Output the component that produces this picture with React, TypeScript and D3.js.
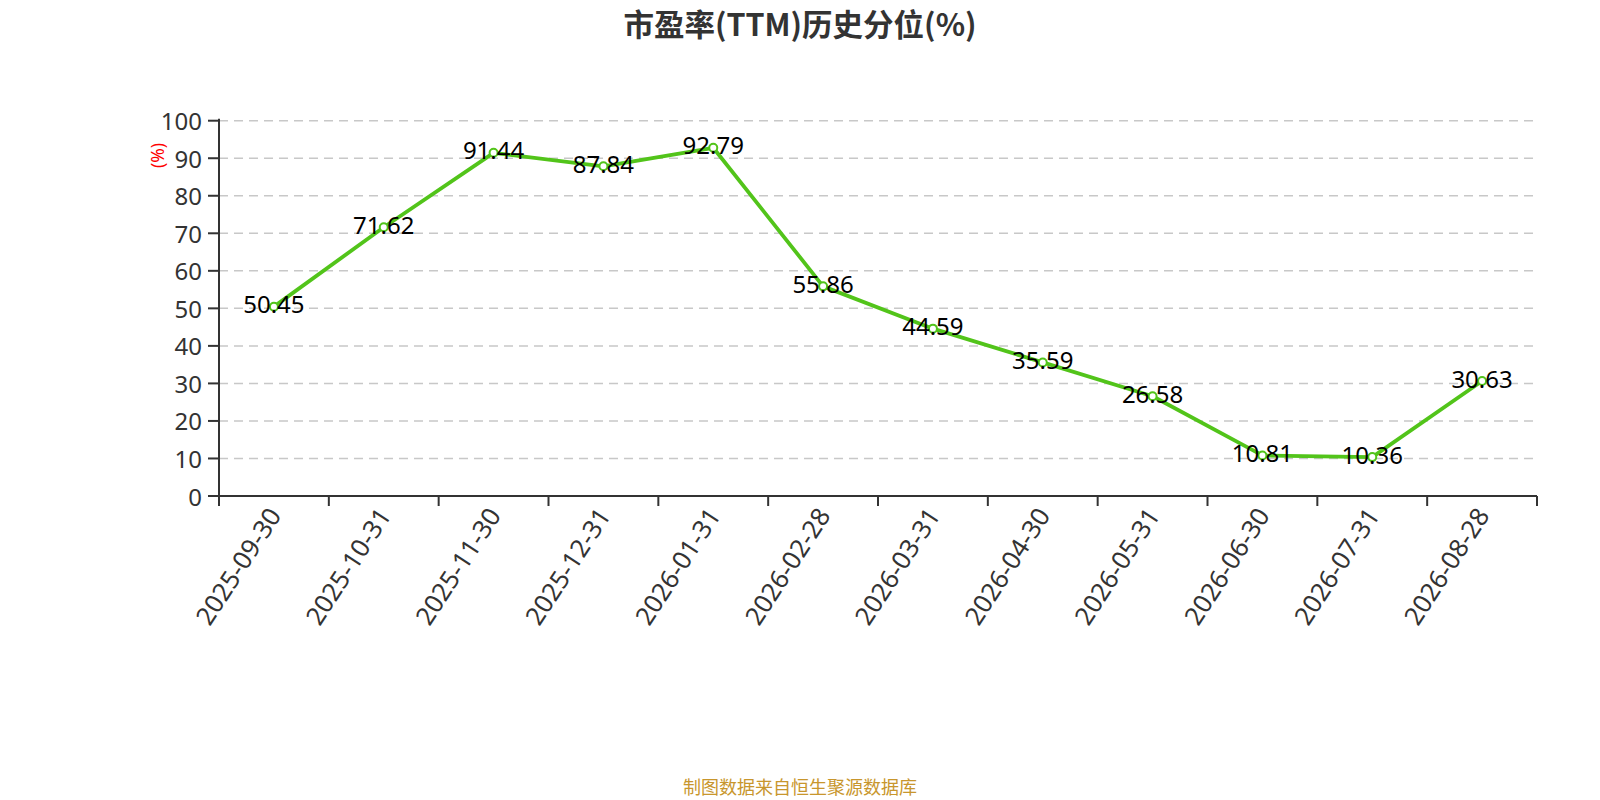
import React from 'react';
import * as d3 from 'd3';

const categories = [
  '2025-09-30', '2025-10-31', '2025-11-30', '2025-12-31', '2026-01-31', '2026-02-28',
  '2026-03-31', '2026-04-30', '2026-05-31', '2026-06-30', '2026-07-31', '2026-08-28',
];
const values = [50.45, 71.62, 91.44, 87.84, 92.79, 55.86, 44.59, 35.59, 26.58, 10.81, 10.36, 30.63];
const yTicks = [0, 10, 20, 30, 40, 50, 60, 70, 80, 90, 100];

const W = 1600;
const H = 800;
const left = 219;
const right = 1537;
const top = 120.7;
const bottom = 496;
const green = '#52c41a';
const font = '"Noto Sans", "Noto Sans CJK SC", sans-serif';

export default function App() {
  const x = d3.scaleBand<string>().domain(categories).range([left, right]).paddingInner(0).paddingOuter(0);
  const y = d3.scaleLinear().domain([0, 100]).range([bottom, top]);
  const cx = (c: string) => (x(c) ?? 0) + x.bandwidth() / 2;
  const line = d3
    .line<number>()
    .x((_, i) => cx(categories[i]))
    .y((d) => y(d));
  const xTickPos = categories.map((c) => x(c) ?? 0).concat([right]);

  return (
    <svg
      width={W}
      height={H}
      style={{ position: 'absolute', left: 0, top: 0, background: '#fff' }}
      fontFamily={font}
    >
      <text
        x={800}
        y={23}
        textAnchor="middle"
        dominantBaseline="central"
        fontSize={30.5}
        fontWeight="bold"
        fill="#333"
        fontFamily='"Noto Sans CJK SC", sans-serif'
      >
        市盈率(TTM)历史分位(%)
      </text>

      {yTicks.map((t) => (
        <g key={t}>
          {t > 0 && (
            <line
              x1={left}
              x2={right}
              y1={y(t)}
              y2={y(t)}
              stroke="#c8c8c8"
              strokeWidth={1.5}
              strokeDasharray="9,6"
            />
          )}
          <line x1={left - 11} x2={left} y1={y(t)} y2={y(t)} stroke="#333" strokeWidth={2} />
          <text
            x={left - 17}
            y={y(t)}
            textAnchor="end"
            dominantBaseline="central"
            fontSize={24}
            fill="#333"
          >
            {t}
          </text>
        </g>
      ))}

      <text
        transform={`translate(157,155.5) rotate(-90)`}
        textAnchor="middle"
        dominantBaseline="central"
        fontSize={17.5}
        fill="#ff0000"
      >
        (%)
      </text>

      <line x1={left} x2={left} y1={top - 2} y2={bottom} stroke="#333" strokeWidth={2} />
      <line x1={left} x2={right} y1={bottom} y2={bottom} stroke="#333" strokeWidth={2} />
      {xTickPos.map((p, i) => (
        <line key={i} x1={p} x2={p} y1={bottom} y2={bottom + 10} stroke="#333" strokeWidth={2} />
      ))}
      {categories.map((c) => (
        <text
          key={c}
          transform={`translate(${cx(c)},${bottom + 14}) rotate(-57)`}
          textAnchor="end"
          dominantBaseline="central"
          fontSize={25.5}
          fill="#333"
        >
          {c}
        </text>
      ))}

      <path d={line(values) ?? ''} fill="none" stroke={green} strokeWidth={3.8} strokeLinejoin="round" />
      {values.map((v, i) => (
        <circle key={i} cx={cx(categories[i])} cy={y(v)} r={4} fill="#fff" stroke={green} strokeWidth={2} />
      ))}
      {values.map((v, i) => (
        <text
          key={i}
          x={cx(categories[i])}
          y={y(v) - 3}
          textAnchor="middle"
          dominantBaseline="central"
          fontSize={24}
          fill="#000"
        >
          {v.toFixed(2)}
        </text>
      ))}

      <text
        x={800}
        y={786}
        textAnchor="middle"
        dominantBaseline="central"
        fontSize={18}
        fill="#c8962d"
        fontFamily='"Noto Sans CJK SC", sans-serif'
      >
        制图数据来自恒生聚源数据库
      </text>
    </svg>
  );
}
